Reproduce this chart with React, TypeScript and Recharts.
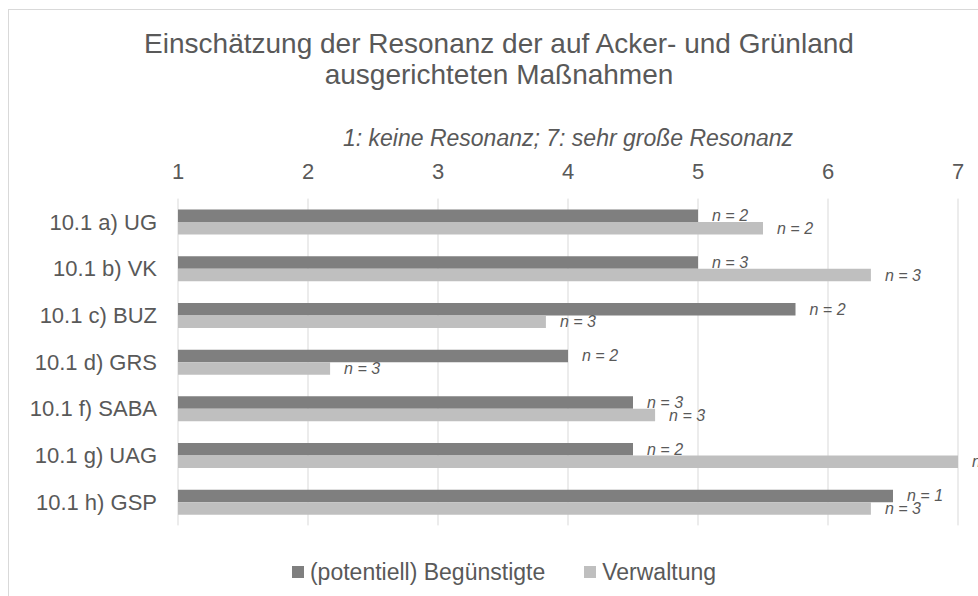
import { BarChart, Bar, XAxis, YAxis, CartesianGrid, LabelList } from 'recharts';

const categories = ['10.1 a) UG', '10.1 b) VK', '10.1 c) BUZ', '10.1 d) GRS', '10.1 f) SABA', '10.1 g) UAG', '10.1 h) GSP'];
const beguenstigte = [5, 5, 5.75, 4, 4.5, 4.5, 6.5];
const verwaltung = [5.5, 6.33, 3.83, 2.17, 4.67, 7, 6.33];
const nBeguenstigte = [2, 3, 2, 2, 3, 2, 1];
const nVerwaltung = [2, 3, 3, 3, 3, 3, 3];
const xTicks = [1, 2, 3, 4, 5, 6, 7];

const seriesNames = ['(potentiell) Begünstigte', 'Verwaltung'];
const seriesColors = ['#7f7f7f', '#bfbfbf'];

const data = categories.map((name, i) => ({
  name,
  b: beguenstigte[i],
  v: verwaltung[i],
  nb: nBeguenstigte[i],
  nv: nVerwaltung[i],
}));

const FONT = '"Liberation Sans", Arial, sans-serif';
const TEXT = '#595959';

const renderN = (props: any) => {
  const { x, y, width, height, value } = props;
  return (
    <text
      x={Number(x) + Number(width) + 14}
      y={Number(y) + Number(height) / 2}
      dominantBaseline="central"
      fill={TEXT}
      fontSize={16}
      fontStyle="italic"
      fontFamily={FONT}
    >
      {`n = ${value}`}
    </text>
  );
};

export default function App() {
  return (
    <div
      style={{
        position: 'absolute',
        left: 0,
        top: 0,
        width: 978,
        height: 596,
        overflow: 'hidden',
        background: '#fff',
        fontFamily: FONT,
        color: TEXT,
      }}
    >
      <div
        style={{
          position: 'absolute',
          left: 8,
          top: 9,
          width: 1000,
          height: 620,
          border: '1px solid #d9d9d9',
        }}
      />
      <div style={{ position: 'absolute', left: 0, width: 998, top: 27.5, textAlign: 'center', fontSize: 28, lineHeight: '31px' }}>
        <div>Einschätzung der Resonanz der auf Acker- und Grünland</div>
        <div>ausgerichteten Maßnahmen</div>
      </div>
      <div
        style={{
          position: 'absolute',
          left: 0,
          width: 1136,
          top: 126.5,
          textAlign: 'center',
          fontSize: 23,
          lineHeight: '23px',
          fontStyle: 'italic',
        }}
      >
        1: keine Resonanz; 7: sehr große Resonanz
      </div>
      <div style={{ position: 'absolute', left: 0, top: 0 }}>
        <BarChart
          width={978}
          height={596}
          data={data}
          layout="vertical"
          barSize={12.5}
          barGap={0}
          margin={{ top: 168.6, right: 20, bottom: 70.6, left: 0 }}
        >
          <CartesianGrid horizontal={false} stroke="#d9d9d9" />
          <XAxis
            type="number"
            orientation="top"
            domain={[1, 7]}
            ticks={xTicks}
            height={30}
            axisLine={false}
            tickLine={false}
            tickSize={0}
            tickMargin={20}
            tick={{ fill: TEXT, fontSize: 22, fontFamily: FONT }}
          />
          <YAxis
            type="category"
            dataKey="name"
            width={178}
            axisLine={false}
            tickLine={false}
            tickSize={0}
            tickMargin={21}
            tick={{ fill: TEXT, fontSize: 22, fontFamily: FONT }}
          />
          <Bar dataKey="b" name={seriesNames[0]} fill={seriesColors[0]} isAnimationActive={false}>
            <LabelList dataKey="nb" content={renderN} />
          </Bar>
          <Bar dataKey="v" name={seriesNames[1]} fill={seriesColors[1]} isAnimationActive={false}>
            <LabelList dataKey="nv" content={renderN} />
          </Bar>
        </BarChart>
      </div>
      <div
        style={{
          position: 'absolute',
          left: 0,
          width: 1008,
          top: 560.5,
          display: 'flex',
          justifyContent: 'center',
          fontSize: 23,
          lineHeight: '23px',
        }}
      >
        {seriesNames.map((s, i) => (
          <div key={s} style={{ display: 'flex', alignItems: 'center', marginLeft: i > 0 ? 39 : 0 }}>
            <span style={{ display: 'inline-block', width: 12, height: 12, background: seriesColors[i], marginRight: 6 }} />
            <span>{s}</span>
          </div>
        ))}
      </div>
    </div>
  );
}
